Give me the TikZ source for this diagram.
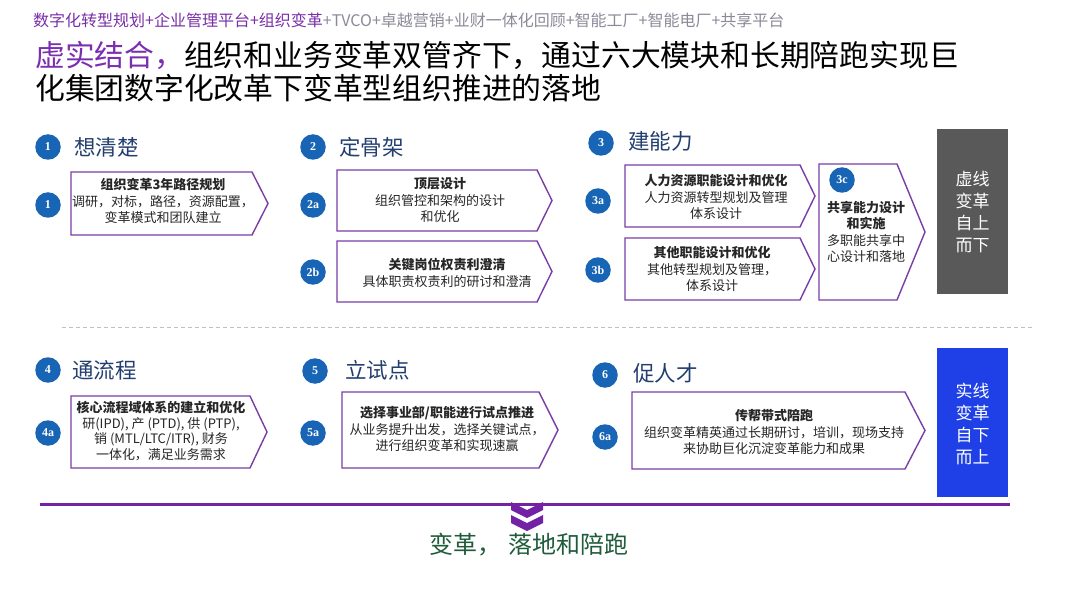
\documentclass[tikz,border=0pt]{standalone}
\usepackage{fontspec}
\setmainfont{Liberation Serif}
\newfontfamily\cjk{Noto Sans CJK SC}
\usetikzlibrary{positioning}

\definecolor{hdrpurple}{HTML}{7A2FA8}
\definecolor{hdrgray}{HTML}{8C8A99}
\definecolor{ttlpurple}{HTML}{7B2FB0}
\definecolor{boxpurple}{HTML}{7A3DA6}
\definecolor{numblue}{HTML}{1765B4}
\definecolor{stagenavy}{HTML}{233F70}
\definecolor{sidegray}{HTML}{595959}
\definecolor{sideblue}{HTML}{1F40E6}
\definecolor{linepurple}{HTML}{7322A6}
\definecolor{endgreen}{HTML}{1F5C3A}

\begin{document}
\begin{tikzpicture}[x=1pt, y=-1pt,
    num/.style={circle, fill=numblue, text=white, inner sep=0pt, minimum size=25.5pt,
        font=\bfseries\fontsize{12}{12}\selectfont},
    stage/.style={anchor=west, inner sep=0pt, text=stagenavy, font=\cjk\fontsize{21.5}{21.5}\selectfont},
    pbox/.style={draw=boxpurple, line width=1.4pt, fill=white, line join=miter},
    btext/.style={align=center, inner sep=0pt, text=black!85, font=\cjk\fontsize{13}{16.5}\selectfont},
    side/.style={align=center, inner sep=0pt, text=white, font=\cjk\fontsize{17}{21.7}\selectfont}]

    \useasboundingbox (0,0) rectangle (1080,607);
    \fill[white] (0,0) rectangle (1080,607);

    % header and title
    \node[anchor=west, inner sep=0pt, font=\cjk\fontsize{16}{16}\selectfont] (hdr) at (33,20)
        {\textcolor{hdrpurple}{数字化转型规划+企业管理平台+组织变革}\textcolor{hdrgray}{+TVCO+卓越营销+业财一体化回顾+智能工厂+智能电厂+共享平台}};
    \node[anchor=west, inner sep=0pt, font=\cjk\fontsize{29.8}{29.8}\selectfont] (title1) at (35,55)
        {\textcolor{ttlpurple}{虚实结合，}组织和业务变革双管齐下，通过六大模块和长期陪跑实现巨};
    \node[anchor=west, inner sep=0pt, font=\cjk\fontsize{29.8}{29.8}\selectfont] (title2) at (35,88)
        {化集团数字化改革下变革型组织推进的落地};

    % stage headers
    \node[num] (n1) at (48,147) {1};
    \node[stage] (s1) at (74,147) {想清楚};
    \node[num] (n2) at (313,147) {2};
    \node[stage] (s2) at (339,147) {定骨架};
    \node[num] (n3) at (601,143) {3};
    \node[stage] (s3) at (628,141) {建能力};
    \node[num] (n4) at (48,370) {4};
    \node[stage] (s4) at (72,370) {通流程};
    \node[num] (n5) at (315,371) {5};
    \node[stage] (s5) at (345,370) {立试点};
    \node[num] (n6) at (605,375) {6};
    \node[stage] (s6) at (633,373) {促人才};

    % pentagon boxes
    \draw[pbox] (71,172) -- (252,172) -- (268,203.5) -- (252,235) -- (71,235) -- cycle;
    \draw[pbox] (337,170) -- (537,170) -- (552,200.5) -- (537,231) -- (337,231) -- cycle;
    \draw[pbox] (337,241) -- (537,241) -- (552,271.5) -- (537,302) -- (337,302) -- cycle;
    \draw[pbox] (625,165) -- (800,165) -- (815,196) -- (800,227) -- (625,227) -- cycle;
    \draw[pbox] (625,238) -- (800,238) -- (815,269) -- (800,300) -- (625,300) -- cycle;
    \draw[pbox] (819,164) -- (897,164) -- (925,232) -- (897,300) -- (819,300) -- cycle;
    \draw[pbox] (71,396) -- (250,396) -- (267,432) -- (250,468) -- (71,468) -- cycle;
    \draw[pbox] (342,392) -- (539,392) -- (558,430) -- (539,468) -- (342,468) -- cycle;
    \draw[pbox] (632,392) -- (905,392) -- (925,430.5) -- (905,469) -- (632,469) -- cycle;

    % sub-step numbers
    \node[num] (n1a) at (48,205) {1};
    \node[num] (n2a) at (313,205) {2a};
    \node[num] (n2b) at (313,272) {2b};
    \node[num] (n3a) at (598,201) {3a};
    \node[num] (n3b) at (598,270) {3b};
    \node[num] (n3c) at (842,180) {3c};
    \node[num] (n4a) at (48,433) {4a};
    \node[num] (n5a) at (313,433) {5a};
    \node[num] (n6a) at (605,437) {6a};

    % box texts
    \node[btext] (b1) at (163,201) {\textbf{组织变革3年路径规划}\\调研，对标，路径，资源配置，\\变革模式和团队建立};
    \node[btext] (b2a) at (440,200) {\textbf{顶层设计}\\组织管控和架构的设计\\和优化};
    \node[btext] (b2b) at (447,273) {\textbf{关键岗位权责利澄清}\\具体职责权责利的研讨和澄清};
    \node[btext] (b3a) at (716,197) {\textbf{人力资源职能设计和优化}\\人力资源转型规划及管理\\体系设计};
    \node[btext] (b3b) at (712,269) {\textbf{其他职能设计和优化}\\其他转型规划及管理，\\体系设计};
    \node[btext] (b3c) at (866,232) {\textbf{共享能力设计}\\\textbf{和实施}\\多职能共享中\\心设计和落地};
    \node[btext, font=\cjk\fontsize{13}{15.8}\selectfont] (b4a) at (161,431)
        {\textbf{核心流程域体系的建立和优化}\\研(IPD), 产 (PTD), 供 (PTP),\\销 (MTL/LTC/ITR), 财务\\一体化，满足业务需求};
    \node[btext] (b5a) at (447,429) {\textbf{选择事业部/职能进行试点推进}\\从业务提升出发，选择关键试点，\\进行组织变革和实现速赢};
    \node[btext] (b6a) at (774,432) {\textbf{传帮带式陪跑}\\组织变革精英通过长期研讨，培训，现场支持\\来协助巨化沉淀变革能力和成果};

    % side panels
    \fill[sidegray] (937,129) rectangle (1008,294);
    \node[side] (top) at (972.5,212) {虚线\\变革\\自上\\而下};
    \fill[sideblue] (937,348) rectangle (1008,497);
    \node[side] (bottom) at (972.5,424) {实线\\变革\\自下\\而上};

    % separators
    \draw[black!25, line width=1pt, dash pattern=on 4pt off 3pt] (62,327) -- (1035,327);
    \draw[linepurple, line width=3pt] (40,504) -- (1010,504);

    % chevrons
    \fill[linepurple] (511,502) -- (527,510) -- (543,502) -- (543,510) -- (527,518) -- (511,510) -- cycle;
    \fill[linepurple] (511,515) -- (527,523) -- (543,515) -- (543,523) -- (527,531) -- (511,523) -- cycle;

    \node[inner sep=0pt, text=endgreen, font=\cjk\fontsize{24}{24}\selectfont] (end) at (529,545)
        {变革，\hspace{0.3em}落地和陪跑};
\end{tikzpicture}
\end{document}
